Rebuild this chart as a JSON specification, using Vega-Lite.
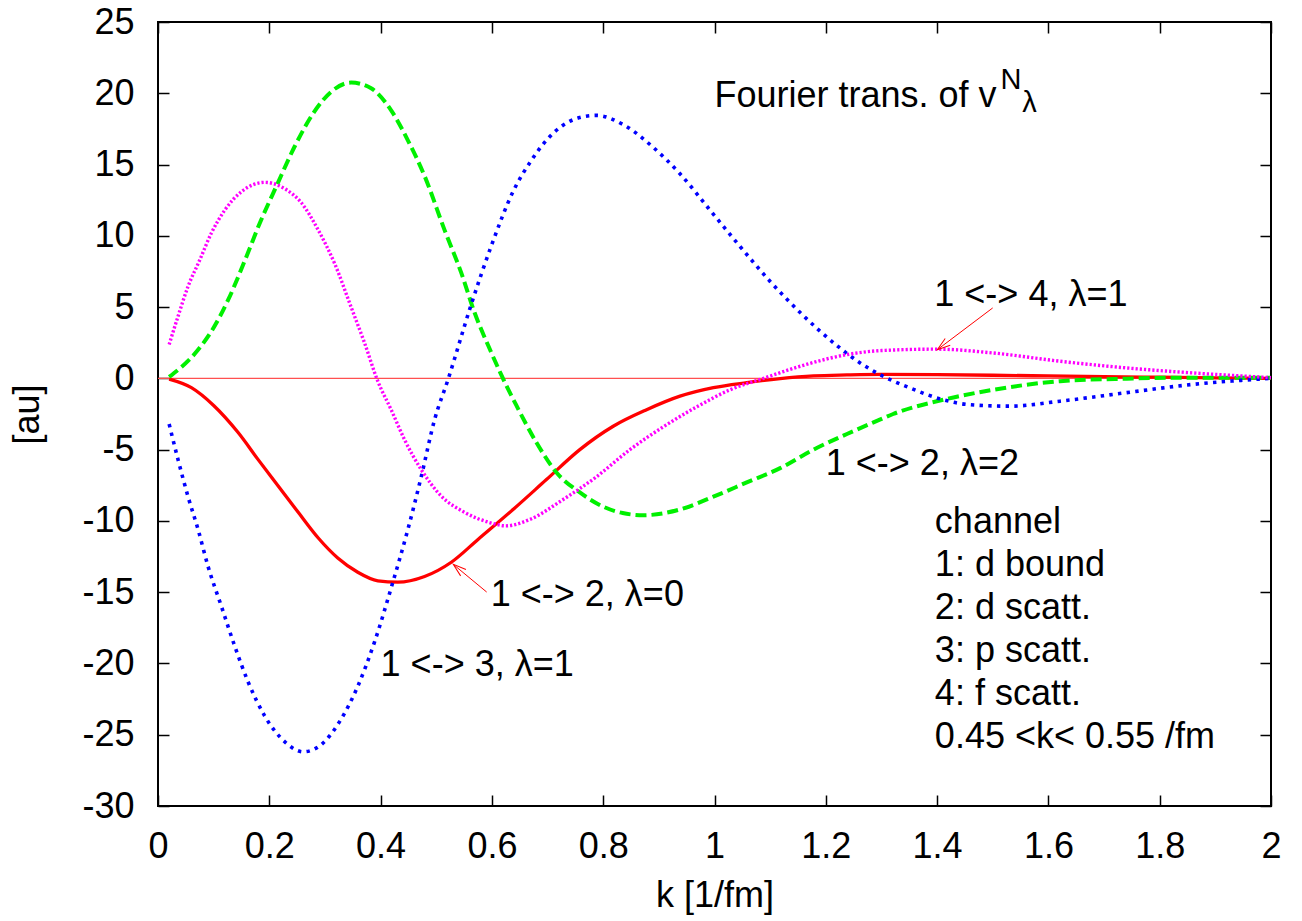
{
  "$schema": "https://vega.github.io/schema/vega-lite/v6.json",
  "width": 1113,
  "height": 784,
  "autosize": {"type": "none"},
  "padding": {"left": 158, "top": 22, "right": 31, "bottom": 115},
  "background": "white",
  "view": {"stroke": "black", "strokeWidth": 2},
  "config": {
    "font": "Liberation Sans",
    "axis": {"labelFont": "Liberation Sans", "titleFont": "Liberation Sans", "labelColor": "black", "titleColor": "black", "tickColor": "black", "domain": false, "grid": false}
  },
  "datasets": {
    "red": [
      {"k": 0.02, "v": -0.05}, {"k": 0.06, "v": -0.65}, {"k": 0.1, "v": -1.9}, {"k": 0.144, "v": -3.8},
      {"k": 0.18, "v": -5.7}, {"k": 0.216, "v": -7.55}, {"k": 0.252, "v": -9.4}, {"k": 0.288, "v": -11.2},
      {"k": 0.323, "v": -12.6}, {"k": 0.359, "v": -13.6}, {"k": 0.395, "v": -14.2}, {"k": 0.431, "v": -14.3},
      {"k": 0.479, "v": -13.9}, {"k": 0.527, "v": -12.9}, {"k": 0.575, "v": -11.3}, {"k": 0.638, "v": -9.2},
      {"k": 0.698, "v": -7.1}, {"k": 0.758, "v": -5.0}, {"k": 0.818, "v": -3.36}, {"k": 0.878, "v": -2.2},
      {"k": 0.938, "v": -1.25}, {"k": 0.998, "v": -0.65}, {"k": 1.058, "v": -0.3}, {"k": 1.118, "v": -0.02},
      {"k": 1.178, "v": 0.17}, {"k": 1.238, "v": 0.24}, {"k": 1.3, "v": 0.28}, {"k": 1.4, "v": 0.26},
      {"k": 1.5, "v": 0.22}, {"k": 1.6, "v": 0.17}, {"k": 1.7, "v": 0.12}, {"k": 1.8, "v": 0.08},
      {"k": 1.9, "v": 0.04}, {"k": 2.0, "v": 0.0}
    ],
    "green": [
      {"k": 0.02, "v": 0.1}, {"k": 0.072, "v": 2.0}, {"k": 0.096, "v": 3.3}, {"k": 0.126, "v": 5.5},
      {"k": 0.159, "v": 8.55}, {"k": 0.183, "v": 10.9}, {"k": 0.213, "v": 13.5}, {"k": 0.246, "v": 16.3},
      {"k": 0.279, "v": 18.6}, {"k": 0.311, "v": 20.1}, {"k": 0.347, "v": 20.75}, {"k": 0.383, "v": 20.35},
      {"k": 0.419, "v": 18.8}, {"k": 0.449, "v": 16.7}, {"k": 0.479, "v": 14.2}, {"k": 0.515, "v": 10.4},
      {"k": 0.545, "v": 7.4}, {"k": 0.569, "v": 4.6}, {"k": 0.599, "v": 1.8}, {"k": 0.615, "v": 0.4},
      {"k": 0.644, "v": -1.9}, {"k": 0.68, "v": -4.5}, {"k": 0.716, "v": -6.6}, {"k": 0.758, "v": -8.0},
      {"k": 0.8, "v": -9.0}, {"k": 0.835, "v": -9.45}, {"k": 0.872, "v": -9.6}, {"k": 0.938, "v": -9.2},
      {"k": 0.998, "v": -8.3}, {"k": 1.058, "v": -7.3}, {"k": 1.118, "v": -6.3}, {"k": 1.178, "v": -5.0},
      {"k": 1.238, "v": -3.9}, {"k": 1.297, "v": -2.9}, {"k": 1.321, "v": -2.5}, {"k": 1.411, "v": -1.5},
      {"k": 1.501, "v": -0.8}, {"k": 1.621, "v": -0.2}, {"k": 1.741, "v": -0.02}, {"k": 1.86, "v": 0.05},
      {"k": 2.0, "v": 0.05}
    ],
    "blue": [
      {"k": 0.02, "v": -3.2}, {"k": 0.036, "v": -5.7}, {"k": 0.054, "v": -8.3}, {"k": 0.072, "v": -10.6},
      {"k": 0.09, "v": -13.2}, {"k": 0.114, "v": -16.0}, {"k": 0.138, "v": -18.8}, {"k": 0.162, "v": -21.3},
      {"k": 0.192, "v": -23.7}, {"k": 0.228, "v": -25.5}, {"k": 0.261, "v": -26.2}, {"k": 0.293, "v": -25.7},
      {"k": 0.326, "v": -24.1}, {"k": 0.359, "v": -21.6}, {"k": 0.389, "v": -18.5}, {"k": 0.422, "v": -14.3},
      {"k": 0.449, "v": -10.6}, {"k": 0.473, "v": -6.9}, {"k": 0.497, "v": -2.9}, {"k": 0.521, "v": -0.1},
      {"k": 0.563, "v": 5.2}, {"k": 0.599, "v": 9.3}, {"k": 0.638, "v": 13.1}, {"k": 0.671, "v": 15.3},
      {"k": 0.713, "v": 17.3}, {"k": 0.758, "v": 18.3}, {"k": 0.788, "v": 18.45}, {"k": 0.836, "v": 17.8},
      {"k": 0.89, "v": 16.2}, {"k": 0.938, "v": 14.35}, {"k": 0.992, "v": 11.8}, {"k": 1.046, "v": 9.25},
      {"k": 1.1, "v": 6.8}, {"k": 1.157, "v": 4.5}, {"k": 1.22, "v": 2.3}, {"k": 1.261, "v": 1.1},
      {"k": 1.303, "v": 0.15}, {"k": 1.351, "v": -0.67}, {"k": 1.411, "v": -1.5}, {"k": 1.459, "v": -1.85},
      {"k": 1.531, "v": -1.95}, {"k": 1.621, "v": -1.6}, {"k": 1.741, "v": -1.0}, {"k": 1.86, "v": -0.42},
      {"k": 2.0, "v": 0.0}
    ],
    "magenta": [
      {"k": 0.02, "v": 2.37}, {"k": 0.036, "v": 4.35}, {"k": 0.054, "v": 6.45}, {"k": 0.075, "v": 8.3},
      {"k": 0.096, "v": 10.2}, {"k": 0.12, "v": 11.8}, {"k": 0.15, "v": 13.1}, {"k": 0.192, "v": 13.75},
      {"k": 0.228, "v": 13.3}, {"k": 0.258, "v": 12.3}, {"k": 0.288, "v": 10.4}, {"k": 0.318, "v": 8.0},
      {"k": 0.347, "v": 5.0}, {"k": 0.371, "v": 2.5}, {"k": 0.395, "v": -0.2}, {"k": 0.419, "v": -2.2},
      {"k": 0.443, "v": -4.3}, {"k": 0.473, "v": -6.4}, {"k": 0.509, "v": -8.26}, {"k": 0.551, "v": -9.4},
      {"k": 0.599, "v": -10.15}, {"k": 0.625, "v": -10.35}, {"k": 0.668, "v": -9.9}, {"k": 0.728, "v": -8.5},
      {"k": 0.788, "v": -6.9}, {"k": 0.848, "v": -5.0}, {"k": 0.908, "v": -3.4}, {"k": 0.968, "v": -2.0},
      {"k": 1.028, "v": -0.8}, {"k": 1.088, "v": 0.0}, {"k": 1.154, "v": 0.85}, {"k": 1.243, "v": 1.7},
      {"k": 1.3, "v": 1.95}, {"k": 1.399, "v": 2.05}, {"k": 1.501, "v": 1.78}, {"k": 1.621, "v": 1.2},
      {"k": 1.741, "v": 0.73}, {"k": 1.86, "v": 0.38}, {"k": 2.0, "v": 0.05}
    ],
    "arrows": [
      {"k": 0.5906, "v": -14.99, "k2": 0.5306, "v2": -13.05},
      {"k": 1.4999, "v": 4.94, "k2": 1.4004, "v2": 2.01}
    ],
    "head1": [{"k": 0.5306, "v": -13.05}],
    "head2": [{"k": 1.4004, "v": 2.01}],
    "labels": [
      {"k": 0.598, "v": -16.0, "label": "1 <-> 2, λ=0"},
      {"k": 0.4, "v": -20.88, "label": "1 <-> 3, λ=1"},
      {"k": 1.395, "v": 5.1, "label": "1 <-> 4, λ=1"},
      {"k": 1.2, "v": -6.81, "label": "1 <-> 2, λ=2"},
      {"k": 1.396, "v": -10.83, "label": "channel"},
      {"k": 1.396, "v": -13.85, "label": "1: d bound"},
      {"k": 1.396, "v": -16.87, "label": "2: d scatt."},
      {"k": 1.396, "v": -19.9, "label": "3: p scatt."},
      {"k": 1.396, "v": -22.92, "label": "4: f scatt."},
      {"k": 1.396, "v": -25.94, "label": "0.45 <k< 0.55 /fm"},
      {"k": 1.0, "v": 19.07, "label": "Fourier trans. of v"}
    ],
    "scripts": [
      {"k": 1.514, "v": 20.3, "label": "N"},
      {"k": 1.553, "v": 18.7, "label": "λ"}
    ]
  },
  "encoding": {
    "x": {"field": "k", "type": "quantitative", "scale": {"domain": [0, 2], "nice": false, "zero": false}, "axis": null},
    "y": {"field": "v", "type": "quantitative", "scale": {"domain": [-30, 25], "nice": false, "zero": false}, "axis": null}
  },
  "resolve": {"axis": {"x": "independent", "y": "independent"}},
  "layer": [
    {
      "data": {"name": "red"},
      "mark": {"type": "point", "opacity": 0},
      "encoding": {
        "x": {"field": "k", "type": "quantitative", "scale": {"domain": [0, 2], "nice": false, "zero": false},
          "axis": {"orient": "bottom", "values": [0, 0.2, 0.4, 0.6, 0.8, 1, 1.2, 1.4, 1.6, 1.8, 2], "format": "~g",
            "tickSize": -11, "tickWidth": 1.5, "labelPadding": 34, "labelFontSize": 36, "labelFlush": false, "labelOverlap": false,
            "title": "k [1/fm]", "titleFontSize": 36, "titleFontWeight": "normal", "titlePadding": 14}},
        "y": {"field": "v", "type": "quantitative", "scale": {"domain": [-30, 25], "nice": false, "zero": false},
          "axis": {"orient": "left", "values": [-30, -25, -20, -15, -10, -5, 0, 5, 10, 15, 20, 25],
            "labelExpr": "replace(datum.label, '\u2212', '-')",
            "tickSize": -11, "tickWidth": 1.5, "labelPadding": 35, "labelFontSize": 36, "labelFlush": false, "labelOverlap": false,
            "title": "[au]", "titleFontSize": 36, "titleFontWeight": "normal", "titlePadding": 35}}
      }
    },
    {
      "data": {"name": "red"},
      "mark": {"type": "point", "opacity": 0},
      "encoding": {
        "x": {"field": "k", "type": "quantitative", "scale": {"domain": [0, 2], "nice": false, "zero": false},
          "axis": {"orient": "top", "values": [0, 0.2, 0.4, 0.6, 0.8, 1, 1.2, 1.4, 1.6, 1.8, 2], "labels": false, "title": null, "tickSize": -11, "tickWidth": 1.5}},
        "y": {"field": "v", "type": "quantitative", "scale": {"domain": [-30, 25], "nice": false, "zero": false},
          "axis": {"orient": "right", "values": [-30, -25, -20, -15, -10, -5, 0, 5, 10, 15, 20, 25], "labels": false, "title": null, "tickSize": -11, "tickWidth": 1.5}}
      }
    },
    {
      "data": {"values": [{"v": 0}]},
      "mark": {"type": "rule", "color": "#ff5050", "strokeWidth": 1.2},
      "encoding": {"x": {"value": 0}, "x2": {"value": 1113}, "y": {"field": "v", "type": "quantitative", "axis": null}}
    },
    {
      "data": {"name": "red"},
      "mark": {"type": "line", "color": "#ff0000", "strokeWidth": 3.3, "interpolate": "monotone"}
    },
    {
      "data": {"name": "green"},
      "mark": {"type": "line", "color": "#00f000", "strokeWidth": 4, "strokeDash": [11, 5], "interpolate": "monotone"}
    },
    {
      "data": {"name": "blue"},
      "mark": {"type": "line", "color": "#0000ff", "strokeWidth": 3.6, "strokeDash": [3.4, 5.3], "interpolate": "monotone"}
    },
    {
      "data": {"name": "magenta"},
      "mark": {"type": "line", "color": "#ff00ff", "strokeWidth": 3.4, "strokeDash": [2.2, 2], "interpolate": "monotone"}
    },
    {
      "data": {"name": "arrows"},
      "mark": {"type": "rule", "color": "#ff0000", "strokeWidth": 1},
      "encoding": {"x2": {"field": "k2"}, "y2": {"field": "v2"}}
    },
    {
      "data": {"name": "head1"},
      "mark": {"type": "point", "shape": "M-1,-0.32L0,0L-1,0.32", "size": 676, "filled": false, "stroke": "#ff0000", "strokeWidth": 1, "opacity": 1, "angle": 219.7}
    },
    {
      "data": {"name": "head2"},
      "mark": {"type": "point", "shape": "M-1,-0.32L0,0L-1,0.32", "size": 676, "filled": false, "stroke": "#ff0000", "strokeWidth": 1, "opacity": 1, "angle": 143}
    },
    {
      "data": {"name": "labels"},
      "mark": {"type": "text", "align": "left", "baseline": "alphabetic", "fontSize": 36, "font": "Liberation Sans", "color": "black"},
      "encoding": {"text": {"field": "label"}}
    },
    {
      "data": {"name": "scripts"},
      "mark": {"type": "text", "align": "left", "baseline": "alphabetic", "fontSize": 29, "font": "Liberation Sans", "color": "black"},
      "encoding": {"text": {"field": "label"}}
    }
  ]
}
